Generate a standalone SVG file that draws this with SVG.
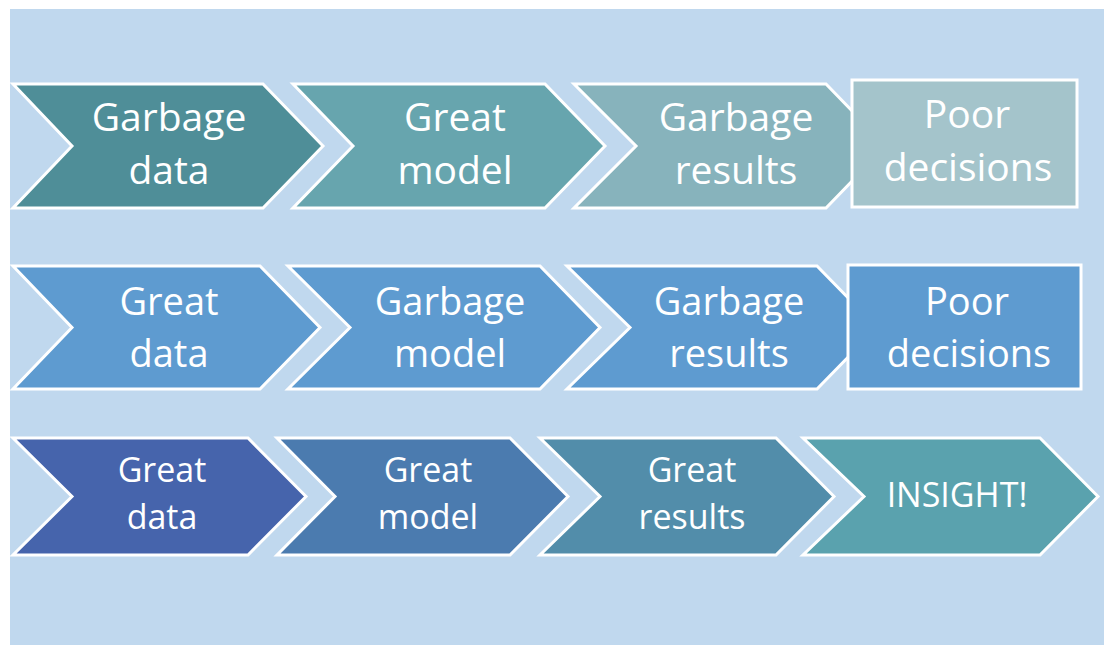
<svg xmlns="http://www.w3.org/2000/svg" width="1104" height="645" viewBox="0 0 1104 645">
<style>
.shape{stroke:#FFFFFF;stroke-width:3;stroke-linejoin:miter}
.t{font-family:"Open Sans","Liberation Sans",sans-serif;fill:#FFFFFF;text-anchor:middle}
.r1{font-size:39px}
.r2{font-size:38px}
.r3{font-size:34px}
</style>
<rect x="0" y="0" width="1104" height="645" fill="#FFFFFF"/>
<rect x="10" y="9" width="1094" height="636" fill="#C0D8EE"/>
<g id="connectors"></g>
<g id="row1">
<g id="r1c1"><path class="shape" fill="#4F8E98" d="M13,84 L263,84 L323,146 L263,208 L13,208 L72,146 Z"/>
<text class="t r1" x="169" y="131">Garbage</text><text class="t r1" x="169" y="184">data</text></g>
<g id="r1c2"><path class="shape" fill="#67A5AE" d="M293,84 L545,84 L605,146 L545,208 L293,208 L353,146 Z"/>
<text class="t r1" x="455" y="131">Great</text><text class="t r1" x="455" y="184">model</text></g>
<g id="r1c3"><path class="shape" fill="#87B3BC" d="M574,84 L826,84 L886,146 L826,208 L574,208 L636,146 Z"/>
<text class="t r1" x="736" y="131">Garbage</text><text class="t r1" x="736" y="184">results</text></g>
<g id="r1c4"><rect class="shape" fill="#A4C4CB" x="852" y="80" width="225" height="127"/>
<text class="t r1" x="967" y="128">Poor</text><text class="t r1" x="968" y="181">decisions</text></g>
</g>
<g id="row2">
<g id="r2c1"><path class="shape" fill="#5E9BD0" d="M13,266 L260,266 L320,327.5 L260,389 L13,389 L72,327.5 Z"/>
<text class="t r2" x="169" y="315">Great</text><text class="t r2" x="169" y="367">data</text></g>
<g id="r2c2"><path class="shape" fill="#5E9BD0" d="M288,266 L540,266 L600,327.5 L540,389 L288,389 L350,327.5 Z"/>
<text class="t r2" x="450" y="315">Garbage</text><text class="t r2" x="450" y="367">model</text></g>
<g id="r2c3"><path class="shape" fill="#5E9BD0" d="M567,266 L817,266 L877,327.5 L817,389 L567,389 L630,327.5 Z"/>
<text class="t r2" x="729" y="315">Garbage</text><text class="t r2" x="729" y="367">results</text></g>
<g id="r2c4"><rect class="shape" fill="#5E9BD0" x="848" y="265" width="233" height="124"/>
<text class="t r2" x="967" y="315">Poor</text><text class="t r2" x="969" y="367">decisions</text></g>
</g>
<g id="row3">
<g id="r3c1"><path class="shape" fill="#4664AC" d="M13,438 L248,438 L306,496.5 L248,555 L13,555 L72,496.5 Z"/>
<text class="t r3" x="162" y="482">Great</text><text class="t r3" x="162" y="529">data</text></g>
<g id="r3c2"><path class="shape" fill="#4B7BAF" d="M277,438 L510,438 L568,496.5 L510,555 L277,555 L335,496.5 Z"/>
<text class="t r3" x="428" y="482">Great</text><text class="t r3" x="428" y="529">model</text></g>
<g id="r3c3"><path class="shape" fill="#528DAA" d="M540,438 L776,438 L834,496.5 L776,555 L540,555 L600,496.5 Z"/>
<text class="t r3" x="692" y="482">Great</text><text class="t r3" x="692" y="529">results</text></g>
<g id="r3c4"><path class="shape" fill="#5AA2AE" d="M803,438 L1040,438 L1098,496.5 L1040,555 L803,555 L864,496.5 Z"/>
<text class="t r3" x="957" y="507">INSIGHT!</text></g>
</g>
</svg>
